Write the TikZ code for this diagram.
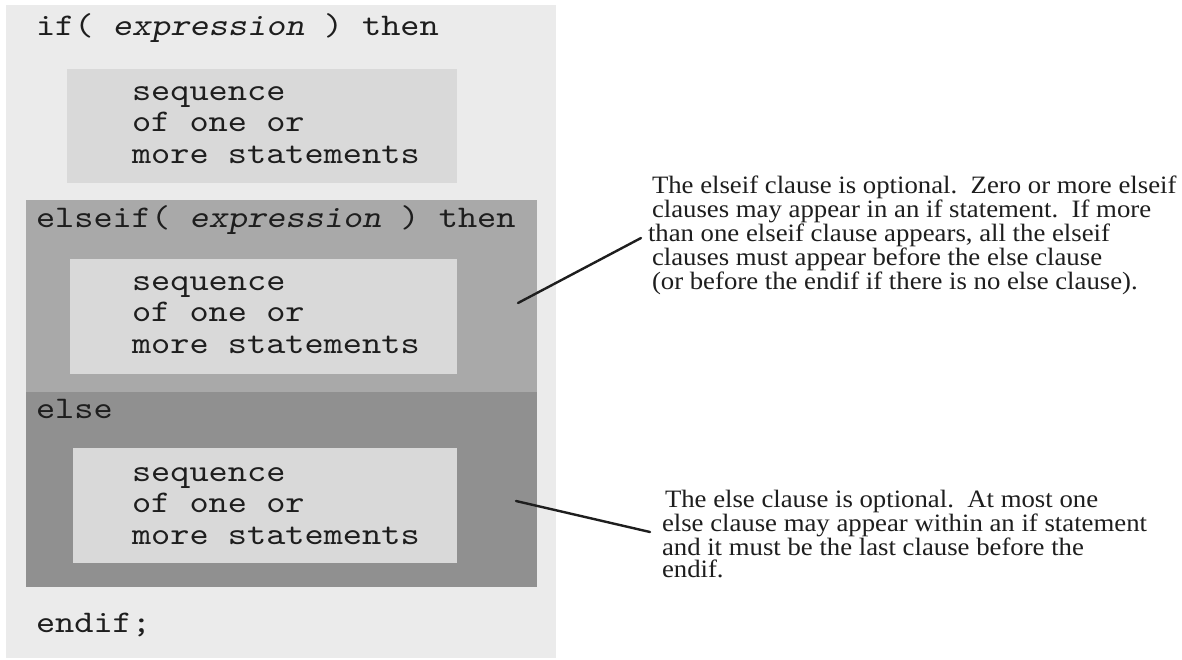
\documentclass[tikz,border=0pt]{standalone}
\usepackage{fontspec}
\newfontfamily\codefont{lmmono10-regular.otf}[FakeStretch=1.16, ItalicFont=lmmonoslant10-regular.otf]
\newfontfamily\notefont[FakeStretch=1.07]{Liberation Serif}
\definecolor{bgouter}{HTML}{EBEBEB}
\definecolor{bgbox}{HTML}{D9D9D9}
\definecolor{bgelseif}{HTML}{A9A9A9}
\definecolor{bgelse}{HTML}{909090}
\definecolor{txt}{HTML}{1E1E1E}
\tikzset{
  region/.style={anchor=north west, inner sep=0pt, outer sep=0pt, draw=none},
  code/.style={anchor=base west, inner sep=0pt, outer sep=0pt, text=txt,
    font=\codefont\fontsize{31.5}{31.5}\selectfont},
  codeblock/.style={code, align=left},
  note/.style={anchor=base west, inner sep=0pt, outer sep=0pt, text=txt, align=left,
    font=\notefont\fontsize{25}{22.5}\selectfont},
  pointer/.style={draw=txt, line width=2.4pt, line cap=round}
}
\begin{document}
\begin{tikzpicture}[x=1pt, y=-1pt]
\useasboundingbox (0,0) rectangle (1182,659);
\fill[white] (0,0) rectangle (1182,659);
% regions
\node[region, fill=bgouter, minimum width=550pt, minimum height=653pt] (outer) at (6,5) {};
\node[region, fill=bgbox, minimum width=390pt, minimum height=114pt] (ifbox) at (67,69) {};
\node[region, fill=bgelseif, minimum width=511pt, minimum height=192pt] (elseifreg) at (26,200) {};
\node[region, fill=bgbox, minimum width=387pt, minimum height=115pt] (elseifbox) at (70,259) {};
\node[region, fill=bgelse, minimum width=511pt, minimum height=195pt] (elsereg) at (26,392) {};
\node[region, fill=bgbox, minimum width=384pt, minimum height=115pt] (elsebox) at (73,448) {};
% code text (multi-line nodes are anchored at the baseline of their last line)
\node[code] (ifline) at (36,35) {if( \textit{expression} ) then};
\node[codeblock] (seq1) at (132,163) {sequence\\of one or\\more statements};
\node[code] (elseifline) at (36,227) {elseif( \textit{expression} ) then};
\node[codeblock] (seq2) at (132,353) {sequence\\of one or\\more statements};
\node[code] (elseline) at (36,418) {else};
\node[codeblock] (seq3) at (132,544) {sequence\\of one or\\more statements};
\node[code] (endifline) at (36,632) {endif;};
% notes
\node[note] (note1) at (652,289) {The elseif clause is optional.\ \ Zero or more elseif\\
clauses may appear in an if statement.\ \ If more\\
\hspace*{-4pt}than one elseif clause appears, all the elseif\\
clauses must appear before the else clause\\
(or before the endif if there is no else clause).};
\node[note] (note2) at (662,577.5) {\hspace*{3pt}The else clause is optional.\ \ At most one\\
else clause may appear within an if statement\\
and it must be the last clause before the\\
endif.};
% pointers
\coordinate (p1) at (518,303);
\coordinate (q1) at (641,238);
\coordinate (p2) at (516,501);
\coordinate (q2) at (650,532);
\draw[pointer] (p1) -- (q1);
\draw[pointer] (p2) -- (q2);
\end{tikzpicture}
\end{document}
